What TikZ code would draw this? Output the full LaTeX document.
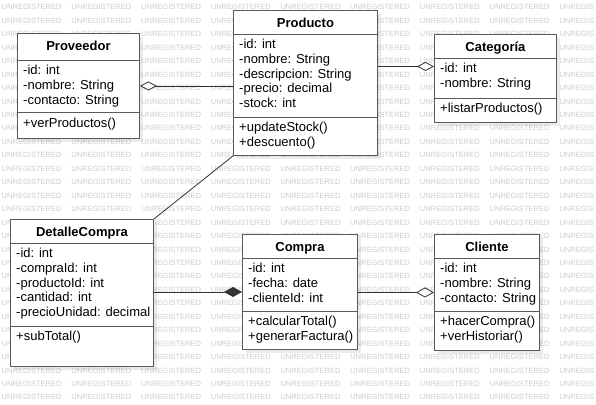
\documentclass[tikz,border=0pt]{standalone}
\usepackage{fontspec}
\setmainfont{Liberation Sans}
\usetikzlibrary{arrows.meta,shadows}

\tikzset{
  classbox/.style={draw=black!65, fill=white, line width=0.9pt, rectangle, inner sep=0pt, anchor=north west,
    drop shadow={shadow xshift=4pt, shadow yshift=-4pt, opacity=0.08, fill=black}},
  divider/.style={draw=black!65, line width=0.9pt},
  classname/.style={font=\bfseries\fontsize{13}{15}\selectfont, anchor=base, inner sep=0pt},
  member/.style={font=\fontsize{13}{15}\selectfont, anchor=base west, inner sep=0pt},
  assoc/.style={draw=black!80, line width=0.8pt},
  watermark/.style={text=black!20, font=\fontsize{7.55}{8}\selectfont, anchor=west, inner sep=0pt}
}

\begin{document}
\begin{tikzpicture}[x=1pt,y=-1pt]
  \useasboundingbox (0,0) rectangle (596,404);

  % watermark
  \foreach \row in {0,...,29}{
    \foreach \col in {0,...,7}{
      \node[watermark] (wm-\col-\row) at (1.5+69.7*\col, 7.3+13.45*\row) {UNREGISTERED};
    }
    \node[watermark] (wm-8-\row) at (559.3, 7.3+13.45*\row) {UNREGIS};
  }

  % Proveedor
  \node[classbox, minimum width=122pt, minimum height=105pt] (prov) at (17,33) {};
  \draw[divider] (prov.west |- 0,60) -- (prov.east |- 0,60);
  \draw[divider] (prov.west |- 0,112) -- (prov.east |- 0,112);
  \node[classname] (prov-name) at (prov.north |- 0,51) {Proveedor};
  \foreach \m [count=\i] in {-id: int, -nombre: String, -contacto: String}
    \node[member] (prov-a\i) at (23, 59.7+14.8*\i) {\m};
  \node[member] (prov-m1) at (23, 127) {+verProductos()};

  % Producto
  \node[classbox, minimum width=144pt, minimum height=145pt] (prod) at (233,10) {};
  \draw[divider] (prod.west |- 0,34) -- (prod.east |- 0,34);
  \draw[divider] (prod.west |- 0,117) -- (prod.east |- 0,117);
  \node[classname] (prod-name) at (prod.north |- 0,27.5) {Producto};
  \foreach \m [count=\i] in {-id: int, -nombre: String, -descripcion: String, -precio: decimal, -stock: int}
    \node[member] (prod-a\i) at (239, 33.7+14.8*\i) {\m};
  \foreach \m [count=\i] in {+updateStock(), +descuento()}
    \node[member] (prod-m\i) at (239, 116.7+14.8*\i) {\m};

  % Categoria
  \node[classbox, minimum width=122pt, minimum height=88pt] (cat) at (434,34) {};
  \draw[divider] (cat.west |- 0,58) -- (cat.east |- 0,58);
  \draw[divider] (cat.west |- 0,98) -- (cat.east |- 0,98);
  \node[classname] (cat-name) at (cat.north |- 0,51.5) {Categoría};
  \foreach \m [count=\i] in {-id: int, -nombre: String}
    \node[member] (cat-a\i) at (440, 57.7+14.8*\i) {\m};
  \node[member] (cat-m1) at (440, 112.5) {+listarProductos()};

  % DetalleCompra
  \node[classbox, minimum width=143pt, minimum height=147pt] (det) at (10,219) {};
  \draw[divider] (det.west |- 0,243) -- (det.east |- 0,243);
  \draw[divider] (det.west |- 0,326) -- (det.east |- 0,326);
  \node[classname] (det-name) at (det.north |- 0,236) {DetalleCompra};
  \foreach \m [count=\i] in {-id: int, -compraId: int, -productoId: int, -cantidad: int, -precioUnidad: decimal}
    \node[member] (det-a\i) at (16, 242.7+14.8*\i) {\m};
  \node[member] (det-m1) at (16, 340.5) {+subTotal()};

  % Compra
  \node[classbox, minimum width=115pt, minimum height=115pt] (comp) at (242,234) {};
  \draw[divider] (comp.west |- 0,258) -- (comp.east |- 0,258);
  \draw[divider] (comp.west |- 0,311) -- (comp.east |- 0,311);
  \node[classname] (comp-name) at (comp.north |- 0,251.5) {Compra};
  \foreach \m [count=\i] in {-id: int, -fecha: date, -clienteId: int}
    \node[member] (comp-a\i) at (248, 257.7+14.8*\i) {\m};
  \foreach \m [count=\i] in {+calcularTotal(), +generarFactura()}
    \node[member] (comp-m\i) at (248, 310.7+14.8*\i) {\m};

  % Cliente
  \node[classbox, minimum width=105pt, minimum height=116pt] (cli) at (434,234) {};
  \draw[divider] (cli.west |- 0,258) -- (cli.east |- 0,258);
  \draw[divider] (cli.west |- 0,311) -- (cli.east |- 0,311);
  \node[classname] (cli-name) at (cli.north |- 0,251.5) {Cliente};
  \foreach \m [count=\i] in {-id: int, -nombre: String, -contacto: String}
    \node[member] (cli-a\i) at (440, 257.7+14.8*\i) {\m};
  \foreach \m [count=\i] in {+hacerCompra(), +verHistoriar()}
    \node[member] (cli-m\i) at (440, 310.7+14.8*\i) {\m};

  % relations
  \draw[assoc, {Diamond[fill=white, length=17pt, width=9pt]}-] (prov.east) -- (prov.east -| prod.west);
  \coordinate (cat-in) at ([yshift=12pt]cat.west);
  \draw[assoc, -{Diamond[fill=white, length=17pt, width=9pt]}] (cat-in -| prod.east) -- (cat-in);
  \draw[assoc] (prod.south west) -- (det.north east);
  \draw[assoc, -{Diamond[length=18pt, width=10pt]}] (comp.west -| det.east) -- (comp.west);
  \draw[assoc, -{Diamond[fill=white, length=18pt, width=10pt]}] (cli.west -| comp.east) -- (cli.west);
\end{tikzpicture}
\end{document}
